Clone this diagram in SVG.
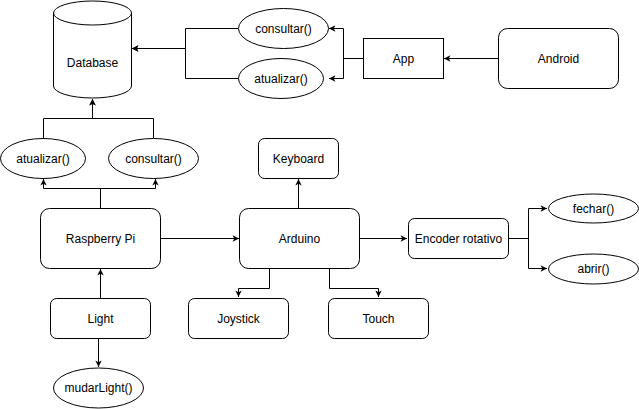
<svg xmlns="http://www.w3.org/2000/svg" width="639" height="409" viewBox="0 0 639 409">
<style>
.s{fill:#fff;stroke:#000;stroke-width:1}
.t{font-family:"Liberation Sans",Arial,sans-serif;font-size:12px;fill:#000;text-anchor:middle}
.e{fill:none;stroke:#000;stroke-width:1}
</style>
<defs>
<marker id="a" viewBox="0 0 10 10" refX="9" refY="5" markerWidth="8" markerHeight="8" markerUnits="userSpaceOnUse" orient="auto">
<path d="M1,1 L9,5 L1,9 L3,5 Z" fill="#000"/>
</marker>
</defs>
<rect width="639" height="409" fill="#fff"/>
<g id="connectors">
<path class="e" d="M238,28.5 H185.5 V48.5 H132" marker-end="url(#a)"/>
<path class="e" d="M238,78.5 H185.5 V48.5 H132" marker-end="url(#a)"/>
<path class="e" d="M363,58.5 H343.5 V28.5 H329" marker-end="url(#a)"/>
<path class="e" d="M363,58.5 H343.5 V78.5 H329" marker-end="url(#a)"/>
<path class="e" d="M498,58.5 H444" marker-end="url(#a)"/>
<path class="e" d="M43.5,138 V118.5 H92.5 V99" marker-end="url(#a)"/>
<path class="e" d="M153.5,138 V118.5 H92.5 V99" marker-end="url(#a)"/>
<path class="e" d="M100.5,208 V188.5 H43.5 V179" marker-end="url(#a)"/>
<path class="e" d="M100.5,208 V188.5 H155.5 V179" marker-end="url(#a)"/>
<path class="e" d="M298.5,208 V179" marker-end="url(#a)"/>
<path class="e" d="M161,238.5 H239" marker-end="url(#a)"/>
<path class="e" d="M360,238.5 H407" marker-end="url(#a)"/>
<path class="e" d="M508,238.5 H528.5 V208.5 H547" marker-end="url(#a)"/>
<path class="e" d="M508,238.5 H528.5 V268.5 H547" marker-end="url(#a)"/>
<path class="e" d="M269.5,268 V288.5 H238.5 V297" marker-end="url(#a)"/>
<path class="e" d="M329.5,268 V288.5 H378.5 V297" marker-end="url(#a)"/>
<path class="e" d="M100.5,298 V269" marker-end="url(#a)"/>
<path class="e" d="M98.5,338 V367" marker-end="url(#a)"/>
</g>
<g id="database">
<path class="s" d="M53.5,13 A39,12 0 0 1 131.5,13 V86 A39,12 0 0 1 53.5,86 Z"/>
<path class="e" d="M53.5,13 A39,12 0 0 0 131.5,13"/>
<text class="t" x="92.5" y="67">Database</text>
</g>
<g id="consultar-app">
<ellipse class="s" cx="283.5" cy="28.5" rx="45" ry="20"/>
<text class="t" x="283.5" y="32.5">consultar()</text>
</g>
<g id="atualizar-app">
<ellipse class="s" cx="281" cy="78.5" rx="42.5" ry="20"/>
<text class="t" x="281" y="82.5">atualizar()</text>
</g>
<g id="app">
<rect class="s" x="363.5" y="38.5" width="80" height="40"/>
<text class="t" x="403.5" y="62.5">App</text>
</g>
<g id="android">
<rect class="s" x="498.5" y="28.5" width="120" height="60" rx="9"/>
<text class="t" x="558.5" y="62.5">Android</text>
</g>
<g id="atualizar-pi">
<ellipse class="s" cx="43" cy="158.5" rx="42.5" ry="20"/>
<text class="t" x="43" y="162.5">atualizar()</text>
</g>
<g id="consultar-pi">
<ellipse class="s" cx="153.5" cy="158.5" rx="45" ry="20"/>
<text class="t" x="153.5" y="162.5">consultar()</text>
</g>
<g id="keyboard">
<rect class="s" x="258.5" y="138.5" width="80" height="40" rx="6"/>
<text class="t" x="298.5" y="162.5">Keyboard</text>
</g>
<g id="raspberry">
<rect class="s" x="40.5" y="208.5" width="120" height="60" rx="9"/>
<text class="t" x="100.5" y="242.5">Raspberry Pi</text>
</g>
<g id="arduino">
<rect class="s" x="239.5" y="208.5" width="120" height="60" rx="9"/>
<text class="t" x="299.5" y="242.5">Arduino</text>
</g>
<g id="encoder">
<rect class="s" x="408.5" y="218.5" width="100" height="40" rx="6"/>
<text class="t" x="458.5" y="242.5">Encoder rotativo</text>
</g>
<g id="fechar">
<ellipse class="s" cx="593.5" cy="208.5" rx="45" ry="14.5"/>
<text class="t" x="593.5" y="212.5">fechar()</text>
</g>
<g id="abrir">
<ellipse class="s" cx="593.5" cy="269" rx="45" ry="15"/>
<text class="t" x="593.5" y="273">abrir()</text>
</g>
<g id="light">
<rect class="s" x="50.5" y="298.5" width="100" height="40" rx="6"/>
<text class="t" x="100.5" y="322.5">Light</text>
</g>
<g id="joystick">
<rect class="s" x="188.5" y="298.5" width="100" height="40" rx="6"/>
<text class="t" x="238.5" y="322.5">Joystick</text>
</g>
<g id="touch">
<rect class="s" x="328.5" y="298.5" width="100" height="40" rx="6"/>
<text class="t" x="378.5" y="322.5">Touch</text>
</g>
<g id="mudarlight">
<ellipse class="s" cx="98.5" cy="388" rx="45" ry="20"/>
<text class="t" x="98.5" y="392">mudarLight()</text>
</g>
</svg>
